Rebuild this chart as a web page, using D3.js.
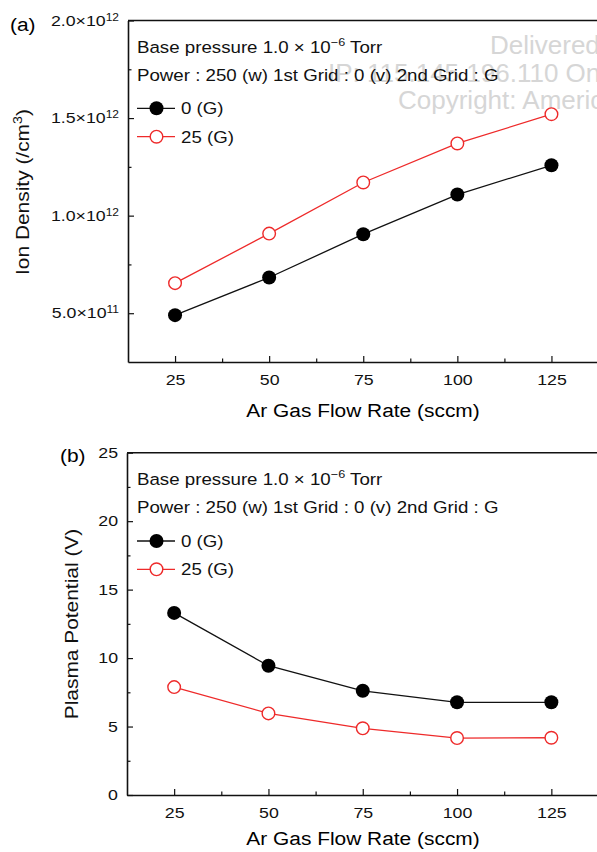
<!DOCTYPE html>
<html>
<head>
<meta charset="utf-8">
<script src="https://cdn.jsdelivr.net/npm/d3@7"></script>
<style>
  body { margin: 0; background: #fff; }
  svg { display: block; font-family: "Liberation Sans", Arial, Helvetica, sans-serif; }
</style>
</head>
<body>
<div id="chart"></div>
<script>
// values
const flowRates = [25, 50, 75, 100, 125];
const densityG0 = [0.49e12, 0.683e12, 0.905e12, 1.108e12, 1.258e12];
const densityG25 = [0.654e12, 0.908e12, 1.17e12, 1.37e12, 1.52e12];
const potentialG0 = [13.3, 9.44, 7.61, 6.77, 6.77];
const potentialG25 = [7.88, 5.96, 4.87, 4.16, 4.18];

const seriesNames = ['0  (G)', '25 (G)'];
const potentialNames = ['0 (G)', '25 (G)'];
const xMinor = [37.5, 62.5, 87.5, 112.5];
const densityTicks = [0.5e12, 1.0e12, 1.5e12, 2.0e12];
const densityMinor = [0.75e12, 1.25e12, 1.75e12];
const potentialTicks = [0, 5, 10, 15, 20, 25];
const potentialMinor = [2.5, 7.5, 12.5, 17.5, 22.5];

const W = 597, H = 852;
const RED = '#ee2a2a';
const SX = 1.2;   // figure text is stretched sideways

const svg = d3.select('#chart').append('svg').attr('width', W).attr('height', H);

// watermark sits behind everything
const wm = svg.append('g').attr('fill', '#d6d6d6').style('font-size', '26px');
wm.append('text').attr('x', 490).attr('y', 54).text('Delivered by Ingenta to:');
wm.append('text').attr('x', 328).attr('y', 82).text('IP: 115.145.196.110 On: Mon');
wm.append('text').attr('x', 398).attr('y', 109).text('Copyright: American Scientific Publishers');

function stext(g, x, y, str, size, sx, anchor) {
  return g.append('text')
    .attr('transform', `translate(${x},${y}) scale(${sx},1)`)
    .attr('text-anchor', anchor || 'start')
    .style('font-size', size + 'px')
    .text(str);
}

function panel(opt) {
  const x = d3.scaleLinear().domain([12.5, 137.5]).range([opt.left, 598.5]);
  const y = d3.scaleLinear().domain(opt.yDomain).range([opt.bottom, opt.top]);
  const g = svg.append('g');

  // minor ticks
  g.append('g').attr('transform', `translate(0,${opt.bottom})`)
    .call(d3.axisBottom(x).tickValues(xMinor).tickSizeInner(-3.5).tickSizeOuter(0).tickFormat(''))
    .call(a => a.select('.domain').remove());
  g.append('g').attr('transform', `translate(${opt.left},0)`)
    .call(d3.axisLeft(y).tickValues(opt.yMinor).tickSizeInner(-3.5).tickSizeOuter(0).tickFormat(''))
    .call(a => a.select('.domain').remove());

  const xa = g.append('g').attr('transform', `translate(0,${opt.bottom})`)
    .call(d3.axisBottom(x).tickValues(flowRates).tickSizeInner(-6).tickSizeOuter(0).tickPadding(12.5));
  xa.selectAll('text').attr('transform', `scale(${SX},1)`);

  const ya = g.append('g').attr('transform', `translate(${opt.left},0)`)
    .call(d3.axisLeft(y).tickValues(opt.yTicks).tickSizeInner(-6).tickSizeOuter(0).tickPadding(7.5));
  ya.selectAll('text').attr('transform', `scale(${SX},1)`).each(opt.yLabel);

  g.selectAll('.tick line').attr('stroke', '#111').attr('stroke-width', 1.2);
  g.selectAll('.domain').attr('stroke', '#111').attr('stroke-width', 1.6);
  g.selectAll('.tick text').attr('fill', '#111')
    .style('font-size', '14.8px')
    .style('font-family', '"Liberation Sans", Arial, Helvetica, sans-serif');

  // top frame line (right edge is outside the picture)
  g.append('line').attr('x1', opt.left).attr('x2', 598.5)
    .attr('y1', opt.top).attr('y2', opt.top).attr('stroke', '#111').attr('stroke-width', 1.6);

  const line = d3.line().x((d, i) => x(flowRates[i])).y(d => y(d));
  g.append('path').datum(opt.s0).attr('d', line).attr('fill', 'none').attr('stroke', '#111').attr('stroke-width', 1.3);
  g.append('path').datum(opt.s1).attr('d', line).attr('fill', 'none').attr('stroke', RED).attr('stroke-width', 1.3);
  g.selectAll('circle.s0').data(opt.s0).join('circle').attr('class', 's0')
    .attr('cx', (d, i) => x(flowRates[i])).attr('cy', d => y(d)).attr('r', 7).attr('fill', '#000');
  g.selectAll('circle.s1').data(opt.s1).join('circle').attr('class', 's1')
    .attr('cx', (d, i) => x(flowRates[i])).attr('cy', d => y(d)).attr('r', 6.3)
    .attr('fill', '#fff').attr('stroke', RED).attr('stroke-width', 1.4);

  // legend block
  const lg = g.append('g').attr('fill', '#111');
  const l1 = stext(lg, 137, opt.legY[0], 'Base pressure 1.0 × 10', 17, 1.1);
  l1.append('tspan').attr('dy', -7).style('font-size', '11.5px').text('−6');
  l1.append('tspan').attr('dy', 7).text(' Torr');
  stext(lg, 137, opt.legY[1], 'Power : 250 (w) 1st Grid : 0 (v) 2nd Grid : G', 17, 1.1);
  [0, 1].forEach(k => {
    const ly = opt.legY[2 + k];
    lg.append('line').attr('x1', 137).attr('x2', 175).attr('y1', ly).attr('y2', ly)
      .attr('stroke', k ? RED : '#111').attr('stroke-width', 1.3);
    lg.append('circle').attr('cx', 156.5).attr('cy', ly).attr('r', k ? 6.3 : 7)
      .attr('fill', k ? '#fff' : '#000').attr('stroke', k ? RED : 'none').attr('stroke-width', 1.4);
    stext(lg, 181, ly + 6, opt.names[k], 17, 1.1);
  });

  // titles
  stext(g, opt.tag[0], opt.tag[1], opt.tagText, 19, 1.1);
  stext(g, 363, opt.bottom + opt.xTitleOff, 'Ar Gas Flow Rate (sccm)', 19, 1.1, 'middle');
  const yt = g.append('text')
    .attr('transform', `translate(${opt.yTitle[0]},${opt.yTitle[1]}) rotate(-90) scale(1.1,1)`)
    .attr('text-anchor', 'middle').style('font-size', '19px').attr('fill', '#111');
  opt.yTitleText(yt);
}

function sciLabel(d) {
  const t = d3.select(this);
  const e = Math.floor(Math.log10(d));
  const m = d / Math.pow(10, e);
  t.text(m.toFixed(1) + '×10');
  t.append('tspan').attr('dy', '-0.5em').style('font-size', '10px').text(e);
}

panel({
  left: 128, top: 20.5, bottom: 362,
  yDomain: [0.25e12, 2.0e12], yTicks: densityTicks, yMinor: densityMinor,
  yLabel: sciLabel,
  s0: densityG0, s1: densityG25, names: seriesNames,
  legY: [53, 81, 108.3, 136.7],
  tag: [10, 31], tagText: '(a)',
  xTitleOff: 55,
  yTitle: [29, 192],
  yTitleText: t => { t.text('Ion Density (/cm'); t.append('tspan').attr('dy', -7).style('font-size', '13px').text('3'); t.append('tspan').attr('dy', 7).text(')'); }
});

panel({
  left: 127, top: 452.7, bottom: 795,
  yDomain: [0, 25], yTicks: potentialTicks, yMinor: potentialMinor,
  yLabel: function () {},
  s0: potentialG0, s1: potentialG25, names: potentialNames,
  legY: [485, 513, 541, 569.3],
  tag: [60, 462], tagText: '(b)',
  xTitleOff: 50,
  yTitle: [78, 624],
  yTitleText: t => t.text('Plasma Potential (V)')
});
</script>
</body>
</html>
